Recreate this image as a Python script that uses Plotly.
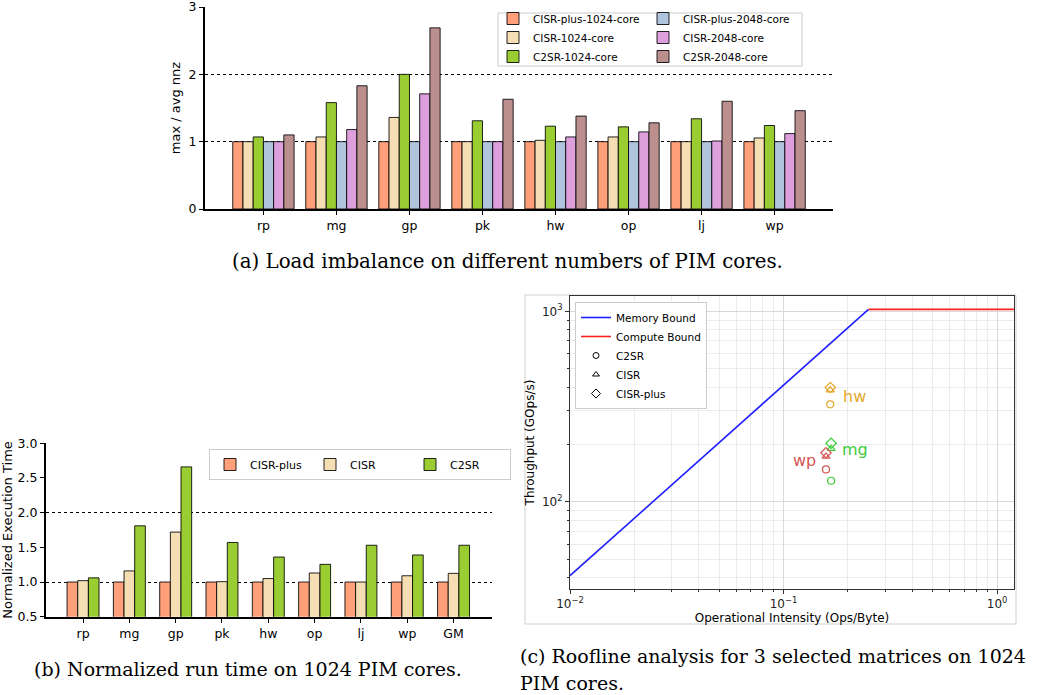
import math
import plotly.graph_objects as go

# ---------------- (a) load imbalance ----------------
cats_a = ["rp", "mg", "gp", "pk", "hw", "op", "lj", "wp"]
cisr_plus_1024 = [1.0, 1.0, 1.0, 1.0, 1.0, 1.0, 1.0, 1.0]
cisr_1024 = [1.0, 1.07, 1.36, 1.0, 1.02, 1.07, 1.0, 1.055]
c2sr_1024 = [1.07, 1.58, 2.0, 1.31, 1.23, 1.22, 1.34, 1.24]
cisr_plus_2048 = [1.0, 1.0, 1.0, 1.0, 1.0, 1.0, 1.0, 1.0]
cisr_2048 = [1.0, 1.18, 1.71, 1.0, 1.07, 1.145, 1.01, 1.12]
c2sr_2048 = [1.10, 1.83, 2.69, 1.63, 1.38, 1.28, 1.60, 1.46]
names_a = ["CISR-plus-1024-core", "CISR-1024-core", "C2SR-1024-core",
           "CISR-plus-2048-core", "CISR-2048-core", "C2SR-2048-core"]

# ---------------- (b) normalized run time ----------------
cats_b = ["rp", "mg", "gp", "pk", "hw", "op", "lj", "wp", "GM"]
cisr_plus_b = [1.0, 1.0, 1.0, 1.0, 1.0, 1.0, 1.0, 1.0, 1.0]
cisr_b = [1.02, 1.16, 1.72, 1.005, 1.05, 1.13, 1.0, 1.09, 1.125]
c2sr_b = [1.06, 1.81, 2.66, 1.57, 1.36, 1.255, 1.53, 1.39, 1.53]
names_b = ["CISR-plus", "CISR", "C2SR"]

# ---------------- (c) roofline ----------------
matrices = ["hw", "mg", "wp"]
oi = [0.1655, 0.167, 0.158]
c2sr_tp = [325, 129, 148]
cisr_tp = [386, 190, 173]
cisr_plus_tp = [398, 203, 181]
mem_x = [0.01, 0.25]
mem_y = [40.96, 1024]
comp_x = [0.25, 1.2]
comp_y = [1024, 1024]

FONT = "DejaVu Sans"
CAP_FONT = "DejaVu Serif"
W, H = 1038, 695

colors6 = ["#FFA07A", "#F5DEB3", "#9ACD32", "#B0C4DE", "#DDA0DD", "#BC8F8F"]
colors3 = ["#FFA07A", "#F5DEB3", "#9ACD32"]
mat_colors = ["#E3A82B", "#3ACC3A", "#D65656"]
EDGE = "rgba(0,0,0,0.85)"

fig = go.Figure()

# (a) bars
series_a = [cisr_plus_1024, cisr_1024, c2sr_1024, cisr_plus_2048, cisr_2048, c2sr_2048]
wa = 0.14
for i, (nm, vals) in enumerate(zip(names_a, series_a)):
    fig.add_trace(go.Bar(
        x=cats_a, y=vals, name=nm, width=wa, offset=-3 * wa + i * wa,
        marker=dict(color=colors6[i], line=dict(color=EDGE, width=1)),
        xaxis="x", yaxis="y",
        legend="legend" if i < 3 else "legend2",
    ))

# (b) bars
series_b = [cisr_plus_b, cisr_b, c2sr_b]
wb = 0.23
for i, (nm, vals) in enumerate(zip(names_b, series_b)):
    fig.add_trace(go.Bar(
        x=cats_b, y=vals, name=nm, width=wb, offset=-1.5 * wb + i * wb,
        marker=dict(color=colors3[i], line=dict(color=EDGE, width=1)),
        xaxis="x2", yaxis="y2", legend="legend3",
    ))

# (c) roofline
fig.add_trace(go.Scatter(x=mem_x, y=mem_y, mode="lines", name="Memory Bound",
                         line=dict(color="#1f1fff", width=1.6),
                         xaxis="x3", yaxis="y3", legend="legend4"))
fig.add_trace(go.Scatter(x=comp_x, y=comp_y, mode="lines", name="Compute Bound",
                         line=dict(color="#ff2020", width=1.6),
                         xaxis="x3", yaxis="y3", legend="legend4"))
for nm, vals, sym, sz in [("C2SR", c2sr_tp, "circle-open", 7),
                          ("CISR", cisr_tp, "triangle-up-open", 7),
                          ("CISR-plus", cisr_plus_tp, "diamond-open", 8)]:
    fig.add_trace(go.Scatter(x=oi, y=vals, mode="markers", showlegend=False,
                             marker=dict(symbol=sym, size=sz, color=mat_colors,
                                         line=dict(width=1.2)),
                             xaxis="x3", yaxis="y3"))
    fig.add_trace(go.Scatter(x=[None], y=[None], mode="markers", name=nm,
                             marker=dict(symbol=sym, size=sz - 1, color="black",
                                         line=dict(width=1)),
                             xaxis="x3", yaxis="y3", legend="legend4"))

annotations = []
shifts = [(24, -6), (24, -1), (-21, -4)]
for m, x, y, c, (dx, dy) in zip(matrices, oi, cisr_tp, mat_colors, shifts):
    annotations.append(dict(x=math.log10(x), y=math.log10(y), xref="x3", yref="y3",
                            text=m, showarrow=False, xshift=dx, yshift=dy,
                            font=dict(family=FONT, size=16, color=c)))

cap_font = dict(family=CAP_FONT, size=19, color="black")
annotations += [
    dict(text="(a) Load imbalance on different numbers of PIM cores.", x=507 / W, y=1 - 262 / H,
         xref="paper", yref="paper", showarrow=False, xanchor="center", yanchor="middle",
         font=dict(family=CAP_FONT, size=19.8, color="black")),
    dict(text="(b) Normalized run time on 1024 PIM cores.", x=248 / W, y=1 - 669 / H,
         xref="paper", yref="paper", showarrow=False, xanchor="center", yanchor="middle",
         font=cap_font),
    dict(text="(c) Roofline analysis for 3 selected matrices on 1024", x=518 / W, y=1 - 656 / H,
         xref="paper", yref="paper", showarrow=False, xanchor="left", yanchor="middle",
         font=cap_font),
    dict(text="PIM cores.", x=518 / W, y=1 - 683 / H,
         xref="paper", yref="paper", showarrow=False, xanchor="left", yanchor="middle",
         font=cap_font),
]

minor_x = [k * 10 ** e for e in (-2, -1, 0) for k in range(2, 10) if k * 10 ** e <= 1.2]
minor_y = [k * 10 ** e for e in (1, 2, 3) for k in range(2, 10) if 30 <= k * 10 ** e <= 1300]

axis_common = dict(showline=True, linecolor="black", ticks="outside", ticklen=4,
                   tickwidth=1, tickcolor="black", zeroline=False, automargin=False,
                   ticklabeloverflow="allow",
                   tickfont=dict(family=FONT, size=12.5, color="black"))

fig.update_layout(
    width=W, height=H, margin=dict(l=0, r=0, t=0, b=0, pad=0, autoexpand=False),
    paper_bgcolor="white", plot_bgcolor="white",
    barmode="overlay",
    font=dict(family=FONT, color="black"),
    annotations=annotations,
    xaxis=dict(domain=[205 / W, 833 / W], range=[-0.8, 7.8], anchor="y",
               linewidth=2, showgrid=False, **axis_common),
    yaxis=dict(domain=[1 - 209 / H, 1 - 7 / H], range=[0, 3], dtick=1, anchor="x",
               linewidth=2, showgrid=True, gridcolor="black", griddash="dot", gridwidth=1,
               title=dict(text="max / avg nnz", font=dict(family=FONT, size=13), standoff=5),
               **axis_common),
    xaxis2=dict(domain=[46 / W, 492 / W], range=[-0.8, 8.83], anchor="y2",
                linewidth=2, showgrid=False, **axis_common),
    yaxis2=dict(domain=[1 - 616.7 / H, 1 - 443.3 / H], range=[0.5, 3.0], dtick=0.5,
                tickformat=".1f", anchor="x2", linewidth=2, showgrid=False,
                minor=dict(tickvals=[1, 2, 3], showgrid=True, gridcolor="black",
                           griddash="dot", gridwidth=1, ticks=""),
                title=dict(text="Normalized Execution Time", font=dict(family=FONT, size=13), standoff=5),
                **axis_common),
    xaxis3=dict(domain=[570 / W, 1014 / W], type="log", range=[-2, math.log10(1.2)],
                anchor="y3", showline=True, linecolor="#333", linewidth=1, mirror=True,
                ticks="outside", ticklen=4, tickcolor="#333", automargin=False,
                ticklabeloverflow="allow",
                tickvals=[0.01, 0.1, 1], ticktext=["10<sup>−2</sup>", "10<sup>−1</sup>", "10<sup>0</sup>"],
                tickfont=dict(family=FONT, size=12, color="#222"),
                showgrid=True, gridcolor="#d9d9d9", gridwidth=0.8,
                minor=dict(tickvals=minor_x, showgrid=True, gridcolor="#ebebeb",
                           gridwidth=0.8, ticks="outside", ticklen=2, tickcolor="#333"),
                zeroline=False,
                title=dict(text="Operational Intensity (Ops/Byte)", font=dict(family=FONT, size=12), standoff=2)),
    yaxis3=dict(domain=[1 - 589 / H, 1 - 296 / H], type="log", range=[1.5424, 3.0803],
                anchor="x3", showline=True, linecolor="#333", linewidth=1, mirror=True,
                ticks="outside", ticklen=4, tickcolor="#333", automargin=False,
                ticklabeloverflow="allow",
                tickvals=[100, 1000], ticktext=["10<sup>2</sup>", "10<sup>3</sup>"],
                tickfont=dict(family=FONT, size=12, color="#222"),
                showgrid=True, gridcolor="#d9d9d9", gridwidth=0.8,
                minor=dict(tickvals=minor_y, showgrid=True, gridcolor="#ebebeb",
                           gridwidth=0.8, ticks="outside", ticklen=2, tickcolor="#333"),
                zeroline=False,
                title=dict(text="Throughput (GOps/s)", font=dict(family=FONT, size=12), standoff=4)),
    legend=dict(x=493 / W, y=1 - 4 / H, xanchor="left", yanchor="top",
                bgcolor="rgba(0,0,0,0)", borderwidth=0,
                font=dict(family=FONT, size=10.5), tracegroupgap=0),
    legend2=dict(x=643 / W, y=1 - 4 / H, xanchor="left", yanchor="top",
                 bgcolor="rgba(0,0,0,0)", borderwidth=0,
                 font=dict(family=FONT, size=10.5), tracegroupgap=0),
    legend3=dict(x=209 / W, y=1 - 449 / H, xanchor="left", yanchor="top",
                 orientation="h", bgcolor="white", bordercolor="#cccccc", borderwidth=1,
                 entrywidth=55, font=dict(family=FONT, size=11)),
    legend4=dict(x=575 / W, y=1 - 302 / H, xanchor="left", yanchor="top",
                 bgcolor="white", bordercolor="#cccccc", borderwidth=1,
                 font=dict(family=FONT, size=10.5), tracegroupgap=0),
    shapes=[
        dict(type="rect", xref="paper", yref="paper", x0=498 / W, x1=802 / W,
             y0=1 - 66 / H, y1=1 - 13 / H, line=dict(color="#cccccc", width=1),
             fillcolor="white", layer="above"),
        dict(type="rect", xref="paper", yref="paper", x0=525 / W, x1=1016 / W,
             y0=1 - 624 / H, y1=1 - 295 / H, line=dict(color="#d0d0d0", width=1),
             fillcolor="rgba(0,0,0,0)", layer="below"),
    ],
)

fig.write_html("out.html", config={"displayModeBar": False},
               post_script="document.body.style.margin='0';")
